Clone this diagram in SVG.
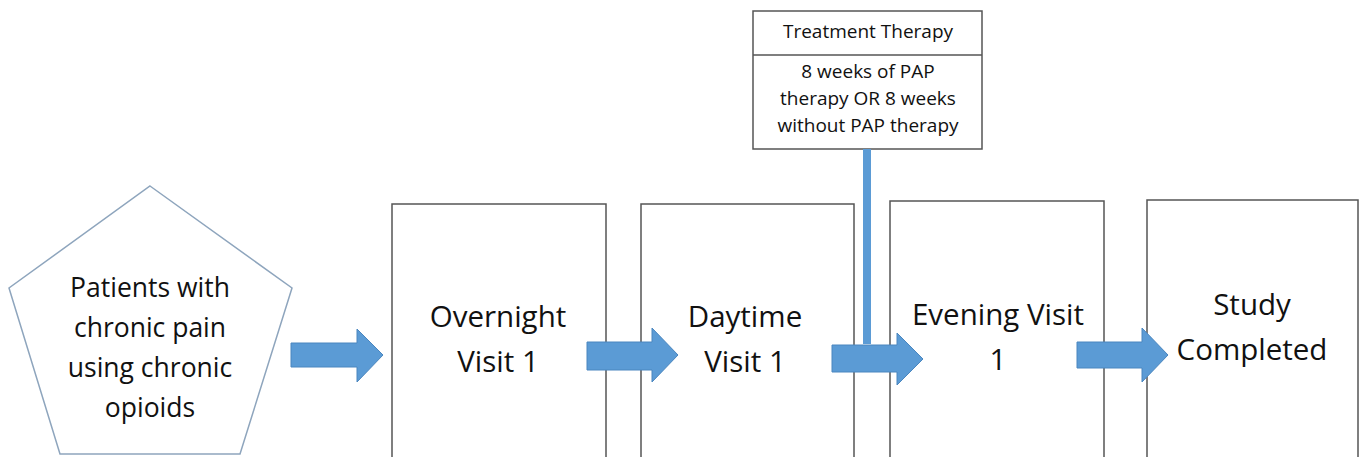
<svg xmlns="http://www.w3.org/2000/svg" width="1359" height="457" viewBox="0 0 1359 457">
<style>
  .box { fill: #ffffff; stroke: #555555; stroke-width: 1.5; }
  .pent { fill: #ffffff; stroke: #8ea5bd; stroke-width: 1.5; }
  .t { font-family: "Open Sans", "Liberation Sans", sans-serif; fill: #111111; text-anchor: middle; }
  .big { font-size: 29.5px; }
  .mid { font-size: 26.5px; }
  .small { font-size: 19px; }
  .arrow { fill: #5b9bd5; stroke: #4a86bf; stroke-width: 1; }
  .bar { fill: #5b9bd5; }
</style>
<rect width="1359" height="457" fill="#ffffff"/>

<g id="patients">
  <polygon class="pent" points="150,186 292,288 240,454 60,454 9,288"/>
  <text class="t mid" x="150" y="297">Patients with</text>
  <text class="t mid" x="150" y="337">chronic pain</text>
  <text class="t mid" x="150" y="377">using chronic</text>
  <text class="t mid" x="150" y="417">opioids</text>
</g>

<g id="overnight">
  <rect class="box" x="392" y="204" width="214" height="270"/>
  <text class="t big" x="498" y="327">Overnight</text>
  <text class="t big" x="498" y="372">Visit 1</text>
</g>

<g id="daytime">
  <rect class="box" x="641" y="204" width="213" height="270"/>
  <text class="t big" x="745" y="327">Daytime</text>
  <text class="t big" x="745" y="372">Visit 1</text>
</g>

<g id="evening">
  <rect class="box" x="890" y="201" width="214" height="273"/>
  <text class="t big" x="998" y="325">Evening Visit</text>
  <text class="t big" x="998" y="370">1</text>
</g>

<g id="study">
  <rect class="box" x="1147" y="200" width="211" height="274"/>
  <text class="t big" x="1252" y="315">Study</text>
  <text class="t big" x="1252" y="360">Completed</text>
</g>

<g id="treatment">
  <rect class="box" x="753" y="11" width="229" height="138"/>
  <line class="box" x1="753" y1="55" x2="982" y2="55"/>
  <text class="t small" x="868" y="38">Treatment Therapy</text>
  <text class="t small" x="868" y="78">8 weeks of PAP</text>
  <text class="t small" x="868" y="105">therapy OR 8 weeks</text>
  <text class="t small" x="868" y="132">without PAP therapy</text>
</g>

<g id="connectors">
  <rect class="bar" x="863" y="149" width="8" height="195"/>
  <polygon class="arrow" points="291,343 357,343 357,329 383,355 357,382 357,367 291,367"/>
  <polygon class="arrow" points="587,342 652,342 652,328 678,355 652,382 652,370 587,370"/>
  <polygon class="arrow" points="832,345 897,345 897,333 923,359 897,385 897,372 832,372"/>
  <polygon class="arrow" points="1077,342 1142,342 1142,328 1168,355 1142,382 1142,368 1077,368"/>
</g>
</svg>
